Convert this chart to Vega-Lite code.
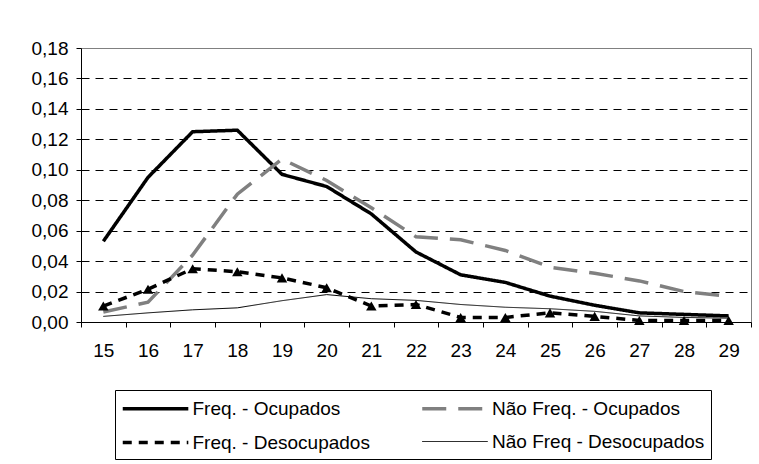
{
  "$schema": "https://vega.github.io/schema/vega-lite/v6.json",
  "width": 670,
  "height": 274,
  "autosize": {"type": "none"},
  "padding": {"left": 81, "top": 48, "right": 8, "bottom": 142},
  "background": "white",
  "config": {
    "font": "Liberation Sans",
    "view": {"stroke": "#808080", "strokeWidth": 1},
    "legend": {
      "orient": "none",
      "legendX": 34,
      "legendY": 342,
      "columns": 2,
      "direction": "horizontal",
      "title": null,
      "strokeColor": "black",
      "fillColor": "white",
      "padding": 6,
      "symbolType": "M-1,0H5.1",
      "symbolSize": 462,
      "labelOffset": 46.5,
      "labelFontSize": 19,
      "labelColor": "black",
      "labelLimit": 400,
      "columnPadding": 44.5,
      "rowPadding": 11
    }
  },
  "data": {
    "values": [
      {"idade": 15, "serie": "Freq. - Ocupados", "valor": 0.053},
      {"idade": 16, "serie": "Freq. - Ocupados", "valor": 0.095},
      {"idade": 17, "serie": "Freq. - Ocupados", "valor": 0.125},
      {"idade": 18, "serie": "Freq. - Ocupados", "valor": 0.126},
      {"idade": 19, "serie": "Freq. - Ocupados", "valor": 0.097},
      {"idade": 20, "serie": "Freq. - Ocupados", "valor": 0.089},
      {"idade": 21, "serie": "Freq. - Ocupados", "valor": 0.071},
      {"idade": 22, "serie": "Freq. - Ocupados", "valor": 0.046},
      {"idade": 23, "serie": "Freq. - Ocupados", "valor": 0.031},
      {"idade": 24, "serie": "Freq. - Ocupados", "valor": 0.026},
      {"idade": 25, "serie": "Freq. - Ocupados", "valor": 0.017},
      {"idade": 26, "serie": "Freq. - Ocupados", "valor": 0.011},
      {"idade": 27, "serie": "Freq. - Ocupados", "valor": 0.006},
      {"idade": 28, "serie": "Freq. - Ocupados", "valor": 0.005},
      {"idade": 29, "serie": "Freq. - Ocupados", "valor": 0.004},
      {"idade": 15, "serie": "Não Freq. - Ocupados", "valor": 0.0066},
      {"idade": 16, "serie": "Não Freq. - Ocupados", "valor": 0.013},
      {"idade": 17, "serie": "Não Freq. - Ocupados", "valor": 0.044},
      {"idade": 18, "serie": "Não Freq. - Ocupados", "valor": 0.084},
      {"idade": 19, "serie": "Não Freq. - Ocupados", "valor": 0.107},
      {"idade": 20, "serie": "Não Freq. - Ocupados", "valor": 0.093},
      {"idade": 21, "serie": "Não Freq. - Ocupados", "valor": 0.075},
      {"idade": 22, "serie": "Não Freq. - Ocupados", "valor": 0.056},
      {"idade": 23, "serie": "Não Freq. - Ocupados", "valor": 0.054},
      {"idade": 24, "serie": "Não Freq. - Ocupados", "valor": 0.047},
      {"idade": 25, "serie": "Não Freq. - Ocupados", "valor": 0.036},
      {"idade": 26, "serie": "Não Freq. - Ocupados", "valor": 0.032},
      {"idade": 27, "serie": "Não Freq. - Ocupados", "valor": 0.027},
      {"idade": 28, "serie": "Não Freq. - Ocupados", "valor": 0.020},
      {"idade": 29, "serie": "Não Freq. - Ocupados", "valor": 0.017},
      {"idade": 15, "serie": "Freq. - Desocupados", "valor": 0.0105},
      {"idade": 16, "serie": "Freq. - Desocupados", "valor": 0.0215},
      {"idade": 17, "serie": "Freq. - Desocupados", "valor": 0.035},
      {"idade": 18, "serie": "Freq. - Desocupados", "valor": 0.033},
      {"idade": 19, "serie": "Freq. - Desocupados", "valor": 0.029},
      {"idade": 20, "serie": "Freq. - Desocupados", "valor": 0.0225},
      {"idade": 21, "serie": "Freq. - Desocupados", "valor": 0.0105},
      {"idade": 22, "serie": "Freq. - Desocupados", "valor": 0.0115},
      {"idade": 23, "serie": "Freq. - Desocupados", "valor": 0.003},
      {"idade": 24, "serie": "Freq. - Desocupados", "valor": 0.003},
      {"idade": 25, "serie": "Freq. - Desocupados", "valor": 0.006},
      {"idade": 26, "serie": "Freq. - Desocupados", "valor": 0.0037},
      {"idade": 27, "serie": "Freq. - Desocupados", "valor": 0.001},
      {"idade": 28, "serie": "Freq. - Desocupados", "valor": 0.001},
      {"idade": 29, "serie": "Freq. - Desocupados", "valor": 0.001},
      {"idade": 15, "serie": "Não Freq - Desocupados", "valor": 0.0037},
      {"idade": 16, "serie": "Não Freq - Desocupados", "valor": 0.006},
      {"idade": 17, "serie": "Não Freq - Desocupados", "valor": 0.008},
      {"idade": 18, "serie": "Não Freq - Desocupados", "valor": 0.0093},
      {"idade": 19, "serie": "Não Freq - Desocupados", "valor": 0.014},
      {"idade": 20, "serie": "Não Freq - Desocupados", "valor": 0.018},
      {"idade": 21, "serie": "Não Freq - Desocupados", "valor": 0.0153},
      {"idade": 22, "serie": "Não Freq - Desocupados", "valor": 0.0142},
      {"idade": 23, "serie": "Não Freq - Desocupados", "valor": 0.0115},
      {"idade": 24, "serie": "Não Freq - Desocupados", "valor": 0.0097},
      {"idade": 25, "serie": "Não Freq - Desocupados", "valor": 0.0087},
      {"idade": 26, "serie": "Não Freq - Desocupados", "valor": 0.007},
      {"idade": 27, "serie": "Não Freq - Desocupados", "valor": 0.004},
      {"idade": 28, "serie": "Não Freq - Desocupados", "valor": 0.003},
      {"idade": 29, "serie": "Não Freq - Desocupados", "valor": 0.0025}
    ]
  },
  "encoding": {
    "x": {
      "field": "idade",
      "type": "ordinal",
      "bandPosition": 0.5,
      "scale": {"type": "band", "paddingInner": 0, "paddingOuter": 0},
      "axis": {
        "title": null,
        "labelAngle": 0,
        "tickBand": "extent",
        "tickSize": 5,
        "tickColor": "black",
        "domainColor": "black",
        "labelPadding": 14,
        "labelFontSize": 19,
        "labelColor": "black",
        "grid": false
      }
    },
    "y": {
      "field": "valor",
      "type": "quantitative",
      "scale": {"domain": [0, 0.18], "nice": false},
      "axis": {
        "title": null,
        "values": [0, 0.02, 0.04, 0.06, 0.08, 0.1, 0.12, 0.14, 0.16, 0.18],
        "labelExpr": "replace(format(datum.value, '.2f'), '.', ',')",
        "tickSize": 5,
        "tickColor": "black",
        "domainColor": "black",
        "labelPadding": 8,
        "labelFontSize": 19,
        "labelColor": "black",
        "grid": true,
        "gridDash": [8, 6],
        "gridColor": {"condition": {"test": "datum.value >= 0.179 || datum.value <= 0.001", "value": "transparent"}, "value": "black"}
      }
    }
  },
  "layer": [
    {
      "mark": {"type": "line"},
      "encoding": {
        "color": {
          "field": "serie",
          "type": "nominal",
          "scale": {
            "domain": ["Freq. - Ocupados", "Não Freq. - Ocupados", "Freq. - Desocupados", "Não Freq - Desocupados"],
            "range": ["black", "#808080", "black", "black"]
          }
        },
        "strokeDash": {
          "field": "serie",
          "type": "nominal",
          "scale": {
            "domain": ["Freq. - Ocupados", "Não Freq. - Ocupados", "Freq. - Desocupados", "Não Freq - Desocupados"],
            "range": [[1, 0], [24, 12], [9, 7], [1, 0]]
          }
        },
        "strokeWidth": {
          "field": "serie",
          "type": "nominal",
          "scale": {
            "type": "ordinal",
            "domain": ["Freq. - Ocupados", "Não Freq. - Ocupados", "Freq. - Desocupados", "Não Freq - Desocupados"],
            "range": [3.5, 3.5, 3.5, 1]
          }
        }
      }
    },
    {
      "transform": [{"filter": "datum.serie === 'Freq. - Desocupados'"}],
      "mark": {"type": "point", "shape": "triangle-up", "filled": true, "color": "black", "opacity": 1, "size": 110}
    }
  ]
}
